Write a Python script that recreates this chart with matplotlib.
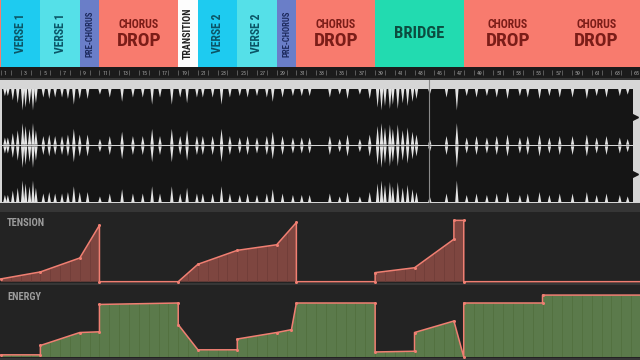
import matplotlib
matplotlib.use("Agg")
import matplotlib.pyplot as plt
import numpy as np

# song structure, in bars
section_names = ["VERSE 1", "VERSE 1", "PRE-CHORUS", "CHORUS DROP", "TRANSITION",
                 "VERSE 2", "VERSE 2", "PRE-CHORUS", "CHORUS DROP", "BRIDGE",
                 "CHORUS DROP", "CHORUS DROP"]
section_bounds = [1, 5, 9, 11, 19, 21, 25, 29, 31, 39, 48, 57, 66]
section_colors = ["#1ecbf0", "#55e0e8", "#6a7ec8", "#f87b6e", "#fdfdfd",
                  "#1ecbf0", "#55e0e8", "#6a7ec8", "#f87b6e", "#22dbb0",
                  "#f87b6e", "#f87b6e"]
label_colors = ["#0b5566", "#0b5566", "#1d2a5e", "#7b1d18", "#222222",
                "#0b5566", "#0b5566", "#1d2a5e", "#7b1d18", "#0c4d40",
                "#7b1d18", "#7b1d18"]

ruler_bars = list(range(1, 66))

# waveform: dips in the (almost clipped) envelope, bar position and depth
dip_bars = [1.4, 1.7, 2.2, 2.7, 3.2, 3.5, 3.9, 4.25, 4.55, 5.3, 5.9, 6.5, 7.2, 7.8,
            8.4, 9.0, 9.8, 11.05, 12.05, 13.3, 14.4, 15.4, 16.35, 17.15, 18.35,
            19.2, 19.9, 20.9, 21.5, 22.5, 23.4, 24.25, 25.25, 26.05, 27.0, 28.0,
            28.6, 29.6, 30.65, 31.55, 32.35, 34.4, 35.4, 36.2, 37.45, 38.45,
            39.25, 39.65, 40.0, 40.5, 40.8, 41.3, 41.8, 42.3, 42.8, 43.2, 44.55,
            46.25, 47.3, 48.3, 49.3, 50.35, 51.35, 52.45, 53.7, 54.5, 55.7, 56.7,
            57.75, 59.05, 60.5, 61.5, 62.5, 63.85, 64.65]
dip_depths = [0.25, 0.25, 0.4, 0.5, 0.75, 0.65, 0.55, 0.75, 0.5, 0.3, 0.35, 0.3, 0.3,
              0.35, 0.55, 0.35, 0.35, 0.2, 0.3, 0.45, 0.3, 0.3, 0.55, 0.3, 0.55,
              0.3, 0.5, 0.3, 0.3, 0.3, 0.55, 0.3, 0.25, 0.3, 0.25, 0.3, 0.45,
              0.3, 0.25, 0.25, 0.25, 0.3, 0.2, 0.35, 0.2, 0.35, 0.65, 0.75, 0.6,
              0.7, 0.55, 0.7, 0.5, 0.6, 0.45, 0.35, 0.2, 0.3, 0.75, 0.25, 0.3,
              0.25, 0.3, 0.35, 0.25, 0.3, 0.35, 0.25, 0.3, 0.3, 0.35, 0.25, 0.3,
              0.25, 0.2]
wave_start_bar = 1.1
wave_end_bar = 65.2
playhead_bar = 44.45

# tension / energy curves (0-100)
tension_bars = [1, 5, 9, 11, 11, 19, 21, 25, 29, 31, 31, 39, 39, 43, 47, 47, 48, 48, 66]
tension_vals = [4, 14, 34, 81, 0, 0, 25, 45, 53, 85, 0, 0, 13, 20, 61, 88, 88, 0, 0]
energy_bars = [1, 5, 5, 9, 11, 11, 19, 19, 21, 25, 25, 29, 30.5, 31, 39, 39, 43, 43,
               47, 48, 48, 56, 56, 66]
energy_vals = [3, 3, 16, 34, 35, 73, 75, 45, 10, 10, 25, 34, 38, 75, 75, 7, 8, 34,
               50, 0, 75, 75, 86, 86]

FONT = ["Roboto Condensed", "DejaVu Sans Condensed", "Liberation Sans Narrow",
        "DejaVu Sans"]
W, H = 640, 360
XLIM = (0.9, 65.9)

fig = plt.figure(figsize=(6.4, 3.6), dpi=100, facecolor="#363636")


def px_axes(top, bottom, bg):
    """ axes spanning the full width between two pixel rows """
    ax = fig.add_axes([0, 1 - bottom / H, 1, (bottom - top) / H])
    ax.set_facecolor(bg)
    ax.set_xlim(*XLIM)
    ax.set_xticks([])
    ax.set_yticks([])
    for s in ax.spines.values():
        s.set_visible(False)
    return ax


# section blocks
ax = px_axes(0, 67, "#f87b6e")
ax.set_ylim(0, 1)
for i, name in enumerate(section_names):
    x0, x1 = section_bounds[i], section_bounds[i + 1]
    ax.axvspan(x0, x1, color=section_colors[i], lw=0)
    xc = (x0 + x1) / 2
    tc = label_colors[i]
    if name == "CHORUS DROP":
        ax.text(xc, 0.63, "CHORUS", ha="center", va="center", color=tc,
                fontsize=8.5, family=FONT, weight="bold")
        ax.text(xc, 0.39, "DROP", ha="center", va="center", color=tc,
                fontsize=14, family=FONT, weight="bold")
    elif name == "BRIDGE":
        ax.text(xc, 0.5, name, ha="center", va="center", color=tc,
                fontsize=12, family=FONT, weight="bold")
    else:
        size = {"VERSE 1": 8.5, "VERSE 2": 8.5, "PRE-CHORUS": 6.2}.get(name, 7.2)
        ax.text(xc, 0.5, name, ha="center", va="center", color=tc, rotation=90,
                fontsize=size, family=FONT, weight="bold")

# bar ruler
ax = px_axes(67, 78, "#1b1b1b")
ax.set_ylim(0, 1)
ax.vlines(ruler_bars, 0.3, 0.7, color="#666666", lw=0.6)
for b in ruler_bars[::2]:
    ax.text(b + 0.3, 0.45, str(b), fontsize=4.3, color="#9a9a9a",
            va="center", ha="left", family=FONT)

# waveform (two channels)
ax = px_axes(80, 203, "#d6d6d6")
ax.set_ylim(-2.0, 2.28)
for c in (1, -1):
    ax.fill_between([wave_start_bar, wave_end_bar], c - 0.97, c + 0.97,
                    color="#151515", lw=0)
ax.plot([wave_end_bar + 0.15] * 2, [1, -1], ls="none", marker=">", ms=4,
        color="#151515")
edges = [(1.97, -1), (0.03, 1), (-0.03, -1), (-1.97, 1)]
for b, d in zip(dip_bars, dip_depths):
    for y0, sgn in edges:
        ax.fill([b - 0.17, b, b + 0.17], [y0, y0 + sgn * d, y0],
                color="#e4e4e4", lw=0)
ax.axvline(playhead_bar, color="#8a8a8a", lw=0.8)


def curve_panel(top, bottom, xs, ys, fill_col, stripe_col, label, base_frac):
    ax = px_axes(top, bottom, "#232323")
    ax.set_ylim(-base_frac, 100)
    poly = ax.fill_between(xs, 0, ys, color=fill_col, lw=0)
    stripes = ax.vlines(np.arange(1, 66, 1), 0, 100, color=stripe_col, lw=0.6)
    stripes.set_clip_path(poly.get_paths()[0], ax.transData)
    ax.plot(xs, ys, color="#f07f72", lw=1.1, marker="o", ms=2.2,
            markerfacecolor="#f07f72", markeredgewidth=0)
    ax.text(0.011, 0.84, label, transform=ax.transAxes, fontsize=7.5,
            color="#9c9c9c", family=FONT, weight="bold", va="center")
    return ax


curve_panel(212, 283, tension_bars, tension_vals, "#7e4640", "#703d38",
            "TENSION", 1.9)
curve_panel(285, 358, energy_bars, energy_vals, "#5b7a4b", "#52703f",
            "ENERGY", 1.4)

fig.savefig("out.png", dpi=100, facecolor=fig.get_facecolor())
